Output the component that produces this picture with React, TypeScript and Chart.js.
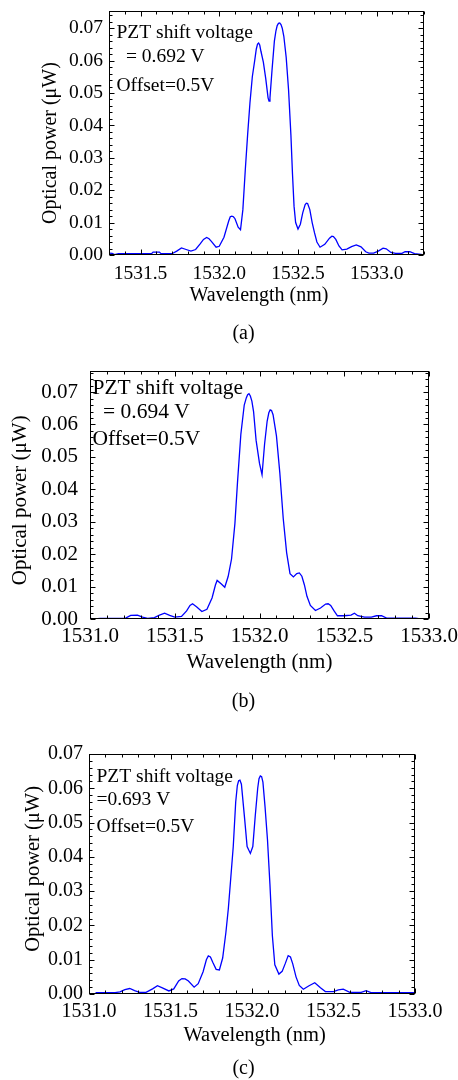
import React, { useEffect, useRef } from "react";
import { Chart, registerables } from "chart.js";

Chart.register(...registerables);

// ---------- data ----------
const wavelengthA = [
  1531.3, 1531.32, 1531.335, 1531.36, 1531.45, 1531.57, 1531.58, 1531.62, 1531.63, 1531.7,
  1531.73, 1531.76, 1531.79, 1531.82, 1531.85, 1531.88, 1531.9, 1531.92, 1531.935, 1531.95, 1531.98, 1532.0,
  1532.03, 1532.06, 1532.07, 1532.08, 1532.09, 1532.1, 1532.12, 1532.135, 1532.15, 1532.165, 1532.18, 1532.195,
  1532.21, 1532.225, 1532.235, 1532.243, 1532.25, 1532.257, 1532.265, 1532.28, 1532.295, 1532.31, 1532.316, 1532.322, 1532.335,
  1532.35, 1532.36, 1532.368, 1532.376, 1532.384, 1532.392, 1532.4, 1532.41, 1532.425, 1532.44, 1532.455, 1532.465, 1532.475,
  1532.485, 1532.5, 1532.515, 1532.53, 1532.545, 1532.553, 1532.561, 1532.575, 1532.59, 1532.605, 1532.62,
  1532.64, 1532.67, 1532.7, 1532.715, 1532.725, 1532.74, 1532.76, 1532.78, 1532.81, 1532.84, 1532.87,
  1532.9, 1532.93, 1532.95, 1532.98, 1533.01, 1533.04, 1533.06, 1533.09, 1533.12, 1533.16,
  1533.18, 1533.21, 1533.24, 1533.28, 1533.3,
];
const powerA = [
  0.0006, 0.0005, 0.0001, 0.0004, 0.0004, 0.0004, 0.0009, 0.0009, 0.0004, 0.0004,
  0.0012, 0.0022, 0.0017, 0.0012, 0.0017, 0.0035, 0.0048, 0.0054, 0.005, 0.0042, 0.0024, 0.0027,
  0.0055, 0.0105, 0.0118, 0.012, 0.0118, 0.0112, 0.0086, 0.0078, 0.014, 0.026, 0.037, 0.047,
  0.055, 0.06, 0.0635, 0.0651, 0.0654, 0.0648, 0.0628, 0.0595, 0.0545, 0.0485, 0.0475, 0.0485, 0.057,
  0.066, 0.0692, 0.0708, 0.0715, 0.0716, 0.0711, 0.07, 0.0675, 0.061, 0.051, 0.037, 0.025, 0.015,
  0.01, 0.008, 0.0095, 0.013, 0.0155, 0.016, 0.0159, 0.014, 0.01, 0.0068, 0.004,
  0.0024, 0.0033, 0.0052, 0.0058, 0.0057, 0.0048, 0.0028, 0.0016, 0.0018, 0.0026, 0.0031,
  0.0025, 0.001, 0.0006, 0.0006, 0.0012, 0.0021, 0.0019, 0.0008, 0.0005, 0.0005,
  0.001, 0.001, 0.0004, 0.0002, 0.0,
];

const wavelengthB = [
  1531.0, 1531.03, 1531.06, 1531.1, 1531.15, 1531.21, 1531.24, 1531.28, 1531.31, 1531.34,
  1531.38, 1531.41, 1531.44, 1531.47, 1531.5, 1531.54, 1531.57, 1531.59, 1531.605, 1531.63, 1531.66,
  1531.69, 1531.72, 1531.74, 1531.75, 1531.775, 1531.795, 1531.815, 1531.835, 1531.855, 1531.87, 1531.89,
  1531.91, 1531.922, 1531.93, 1531.938, 1531.946, 1531.955, 1531.965, 1531.98, 1532.0, 1532.015, 1532.03, 1532.045, 1532.055,
  1532.063, 1532.071, 1532.08, 1532.1, 1532.12, 1532.14, 1532.16, 1532.18, 1532.2, 1532.22, 1532.235, 1532.25, 1532.265,
  1532.28, 1532.3, 1532.33, 1532.36, 1532.39, 1532.405, 1532.42, 1532.44, 1532.46, 1532.5, 1532.54,
  1532.56, 1532.58, 1532.62, 1532.66, 1532.69, 1532.72, 1532.75, 1532.85, 1532.92, 1532.95,
  1533.0,
];
const powerB = [
  0.0002, 0.0, 0.0002, 0.0002, 0.0002, 0.0003, 0.0011, 0.0012, 0.0006, 0.0002,
  0.0004, 0.0012, 0.0018, 0.0011, 0.0006, 0.0008, 0.0025, 0.0042, 0.0047, 0.0037, 0.0023,
  0.003, 0.0065, 0.0105, 0.0119, 0.0108, 0.0098, 0.0131, 0.0185, 0.0295, 0.042, 0.057,
  0.066, 0.0682, 0.0692, 0.0695, 0.0688, 0.0672, 0.064, 0.0551, 0.048, 0.0445, 0.054, 0.061, 0.0636,
  0.0645, 0.0643, 0.063, 0.0565, 0.045, 0.031, 0.0205, 0.014, 0.013, 0.014, 0.0142, 0.0132, 0.0105,
  0.007, 0.0042, 0.0026, 0.0034, 0.0046, 0.0047, 0.0042, 0.0025, 0.001, 0.001, 0.0012,
  0.0018, 0.001, 0.0006, 0.0006, 0.001, 0.001, 0.0003, 0.0003, 0.0003, 0.0,
  0.0,
];

const wavelengthC = [
  1531.04, 1531.1, 1531.16, 1531.19, 1531.22, 1531.25, 1531.28, 1531.31, 1531.35, 1531.39,
  1531.42, 1531.45, 1531.49, 1531.52, 1531.55, 1531.57, 1531.59, 1531.61, 1531.645, 1531.67, 1531.7,
  1531.72, 1531.732, 1531.745, 1531.76, 1531.78, 1531.8, 1531.82, 1531.84, 1531.855, 1531.87, 1531.885,
  1531.9, 1531.91, 1531.918, 1531.926, 1531.935, 1531.955, 1531.97, 1531.99, 1532.005, 1532.02, 1532.035, 1532.043,
  1532.051, 1532.059, 1532.067, 1532.08, 1532.095, 1532.11, 1532.125, 1532.14, 1532.165, 1532.185, 1532.205, 1532.222, 1532.236,
  1532.25, 1532.27, 1532.29, 1532.315, 1532.35, 1532.385, 1532.42, 1532.45, 1532.5, 1532.53,
  1532.56, 1532.6, 1532.67, 1532.7, 1532.73, 1532.85, 1533.0,
];
const powerC = [
  0.0004, 0.0004, 0.0004, 0.0006, 0.0013, 0.0016, 0.001, 0.0005, 0.0005, 0.0015,
  0.0024, 0.0018, 0.0009, 0.0015, 0.0038, 0.0045, 0.0044, 0.0038, 0.002, 0.003, 0.0065,
  0.01, 0.0111, 0.0108, 0.0092, 0.0072, 0.007, 0.0105, 0.018, 0.025, 0.034, 0.043,
  0.056, 0.0608, 0.0622, 0.0624, 0.0612, 0.051, 0.043, 0.041, 0.043, 0.052, 0.06, 0.0628,
  0.0636, 0.0634, 0.0618, 0.0546, 0.045, 0.032, 0.017, 0.0085, 0.0058, 0.0066, 0.009, 0.0112, 0.0108,
  0.0088, 0.005, 0.0025, 0.0014, 0.0024, 0.0033, 0.0018, 0.0007, 0.0007, 0.0012,
  0.0014, 0.0005, 0.0005, 0.001, 0.0004, 0.0004, 0.0004,
];

const xTicksA = [1531.5, 1532.0, 1532.5, 1533.0];
const xTicksBC = [1531.0, 1531.5, 1532.0, 1532.5, 1533.0];
const yTicks = [0, 0.01, 0.02, 0.03, 0.04, 0.05, 0.06, 0.07];

const xTitle = "Wavelength (nm)";
const yTitle = "Optical power (\u03bcW)";
const notesA = ["PZT shift voltage", "= 0.692 V", "Offset=0.5V"];
const notesB = ["PZT shift voltage", "= 0.694 V", "Offset=0.5V"];
const notesC = ["PZT shift voltage", "=0.693 V", "Offset=0.5V"];
const captions = ["(a)", "(b)", "(c)"];

const FONT = '"Liberation Serif", "Times New Roman", Times, serif';

type PanelCfg = {
  wl: number[];
  pw: number[];
  xTicks: number[];
  xMin: number;
  xMax: number;
  yMax: number;
  top: number;
  height: number;
  left: number;
  right: number;
  areaTop: number;
  areaBottom: number;
  xAxisH: number;
  tickFs: number;
  titleFs: number;
  noteFs: number;
  xLabelPad: number;
  yLabelPad: number;
  yTitleX: number;
  xTitleText: string;
  yTitleText: string;
  notes: string[];
  notePos: number[][];
  caption: string;
  captionY: number;
};

const panels: PanelCfg[] = [
  {
    wl: wavelengthA, pw: powerA, xTicks: xTicksA, xMin: 1531.3, xMax: 1533.3, yMax: 0.0753,
    top: 0, height: 350, left: 109, right: 424, areaTop: 11, areaBottom: 255, xAxisH: 53,
    tickFs: 19.5, titleFs: 20, noteFs: 19.5, xLabelPad: 7, yLabelPad: 6, yTitleX: 51,
    xTitleText: xTitle + "   ", yTitleText: yTitle + "    ",
    notes: notesA, notePos: [[116.5, 33], [126, 57], [116.5, 86]],
    caption: captions[0], captionY: 334,
  },
  {
    wl: wavelengthB, pw: powerB, xTicks: xTicksBC, xMin: 1531.0, xMax: 1533.0, yMax: 0.0765,
    top: 350, height: 365, left: 90, right: 429, areaTop: 371, areaBottom: 619, xAxisH: 56,
    tickFs: 21, titleFs: 21, noteFs: 21.5, xLabelPad: 5, yLabelPad: 12, yTitleX: 20.5,
    xTitleText: xTitle, yTitleText: yTitle + "  ",
    notes: notesB, notePos: [[92.5, 388], [103, 412], [92.5, 439.5]],
    caption: captions[1], captionY: 702,
  },
  {
    wl: wavelengthC, pw: powerC, xTicks: xTicksBC, xMin: 1531.0, xMax: 1533.0, yMax: 0.07,
    top: 715, height: 365, left: 89, right: 415, areaTop: 754, areaBottom: 994, xAxisH: 54,
    tickFs: 20, titleFs: 20.5, noteFs: 19.5, xLabelPad: 5.5, yLabelPad: 6, yTitleX: 34,
    xTitleText: " " + xTitle, yTitleText: "  " + yTitle,
    notes: notesC, notePos: [[96.5, 776.5], [96.5, 800], [96.5, 826.5]],
    caption: captions[2], captionY: 1069,
  },
];

function framePlugin(cfg: PanelCfg) {
  return {
    id: "frame",
    afterDraw(chart: any) {
      const { ctx, chartArea: a } = chart;
      const xs = chart.scales.x;
      const ys = chart.scales.y;
      ctx.save();
      ctx.strokeStyle = "#000";
      ctx.lineWidth = 1;
      const L = Math.round(a.left) + 0.5;
      const R = Math.round(a.right) - 0.5;
      const T = Math.round(a.top) + 0.5;
      const B = Math.round(a.bottom) - 0.5;
      ctx.strokeRect(L, T, R - L, B - T);
      ctx.beginPath();
      const nx = Math.round((cfg.xMax - cfg.xMin) / 0.1);
      for (let i = 0; i <= nx; i++) {
        const v = Math.round((cfg.xMin + i * 0.1) * 10) / 10;
        const major = cfg.xTicks.some((t) => Math.abs(t - v) < 1e-6);
        const len = major ? 5 : 3;
        const p = Math.round(xs.getPixelForValue(v)) + 0.5;
        ctx.moveTo(p, B);
        ctx.lineTo(p, B - len);
        ctx.moveTo(p, T);
        ctx.lineTo(p, T + len);
      }
      const ny = Math.floor(cfg.yMax / 0.002 + 1e-6);
      for (let i = 0; i <= ny; i++) {
        const v = i * 0.002;
        const len = i % 5 === 0 ? 5 : 3;
        const p = Math.round(ys.getPixelForValue(v)) + 0.5;
        ctx.moveTo(L, p);
        ctx.lineTo(L + len, p);
        ctx.moveTo(R, p);
        ctx.lineTo(R - len, p);
      }
      ctx.stroke();

      ctx.fillStyle = "#000";
      ctx.textBaseline = "middle";
      ctx.textAlign = "left";
      ctx.font = `${cfg.noteFs}px ${FONT}`;
      cfg.notes.forEach((t, i) => {
        ctx.fillText(t, cfg.notePos[i][0], cfg.notePos[i][1] - cfg.top);
      });
      ctx.textAlign = "center";
      ctx.font = `20px ${FONT}`;
      ctx.fillText(cfg.caption, 243.5, cfg.captionY - cfg.top);
      ctx.restore();
    },
  };
}

function Panel({ cfg }: { cfg: PanelCfg }) {
  const ref = useRef<HTMLCanvasElement>(null);
  useEffect(() => {
    if (!ref.current) return;
    const points = cfg.wl.map((x, i) => ({ x, y: cfg.pw[i] }));
    const chart = new Chart(ref.current, {
      type: "line",
      data: {
        datasets: [
          {
            data: points,
            borderColor: "#0000ff",
            borderWidth: 1.3,
            pointRadius: 0,
            tension: 0,
            fill: false,
          },
        ],
      },
      options: {
        animation: false,
        responsive: false,
        devicePixelRatio: 1,
        events: [],
        layout: {
          padding: {
            left: 0,
            right: 458 - cfg.right,
            top: cfg.areaTop - cfg.top,
            bottom: cfg.top + cfg.height - cfg.areaBottom - cfg.xAxisH,
          },
        },
        plugins: { legend: { display: false }, tooltip: { enabled: false }, title: { display: false } },
        scales: {
          x: {
            type: "linear",
            position: "bottom",
            min: cfg.xMin,
            max: cfg.xMax,
            afterBuildTicks: (s: any) => {
              s.ticks = cfg.xTicks.map((v) => ({ value: v }));
            },
            afterFit: (s: any) => {
              s.height = cfg.xAxisH;
              s.paddingLeft = 0;
              s.paddingRight = 0;
              s.paddingTop = 0;
              s.paddingBottom = 0;
            },
            grid: { display: false, drawTicks: false },
            border: { display: false },
            ticks: {
              color: "#000",
              font: { family: FONT, size: cfg.tickFs },
              padding: cfg.xLabelPad,
              maxRotation: 0,
              autoSkip: false,
              callback: (v: any) => Number(v).toFixed(1),
            },
            title: {
              display: true,
              text: cfg.xTitleText,
              color: "#000",
              font: { family: FONT, size: cfg.titleFs },
              padding: { top: 0, bottom: 0 },
            },
          },
          y: {
            type: "linear",
            position: "left",
            min: 0,
            max: cfg.yMax,
            afterBuildTicks: (s: any) => {
              s.ticks = yTicks.filter((v) => v <= cfg.yMax + 1e-9).map((v) => ({ value: v }));
            },
            afterFit: (s: any) => {
              s.width = cfg.left;
              s.paddingLeft = 0;
              s.paddingRight = 0;
              s.paddingTop = 0;
              s.paddingBottom = 0;
            },
            grid: { display: false, drawTicks: false },
            border: { display: false },
            ticks: {
              color: "#000",
              font: { family: FONT, size: cfg.tickFs },
              padding: cfg.yLabelPad,
              autoSkip: false,
              callback: (v: any) => Number(v).toFixed(2),
            },
            title: {
              display: true,
              text: cfg.yTitleText,
              color: "#000",
              font: { family: FONT, size: cfg.titleFs },
              padding: { top: cfg.yTitleX - (cfg.titleFs * 1.2) / 2, bottom: 0 },
            },
          },
        },
      },
      plugins: [framePlugin(cfg)],
    } as any);
    return () => chart.destroy();
  }, [cfg]);
  return (
    <canvas
      ref={ref}
      width={458}
      height={cfg.height}
      style={{ position: "absolute", left: 0, top: cfg.top, width: 458, height: cfg.height, display: "block" }}
    />
  );
}

export default function App() {
  return (
    <div style={{ position: "absolute", left: 0, top: 0, width: 458, height: 1080, background: "#fff" }}>
      {panels.map((p, i) => (
        <Panel key={i} cfg={p} />
      ))}
    </div>
  );
}
